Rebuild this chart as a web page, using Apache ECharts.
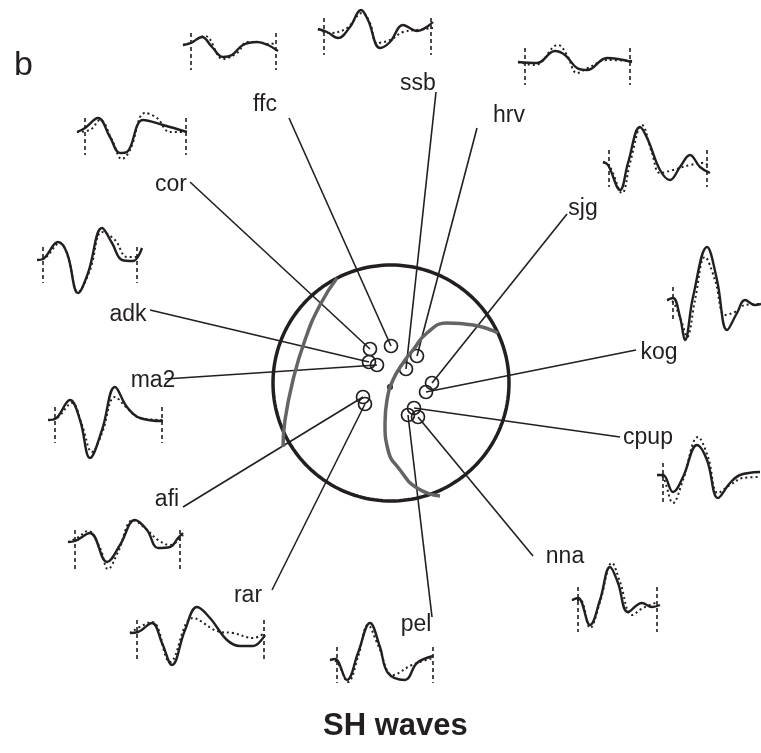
<!DOCTYPE html>
<html>
<head>
<meta charset="utf-8">
<script src="https://cdn.jsdelivr.net/npm/echarts@6/dist/echarts.min.js"></script>
<style>
  html, body { margin: 0; background: #fff; }
  #chart { width: 761px; height: 753px; }
</style>
</head>
<body>
<div id="chart"></div>
<script>
// stations on the focal sphere (projected), their labels and leader-line ends
const stations = ['ffc', 'cor', 'adk', 'ma2', 'ssb', 'hrv', 'sjg', 'kog', 'afi', 'rar', 'cpup', 'pel', 'nna'];
const stationPos = [[391, 346], [370, 349], [369, 362], [377, 365], [406, 369], [417, 356], [432, 383],
  [426, 392], [363, 397], [365, 404], [414, 408], [408, 415], [418, 417]];
const labelPos = [[265, 105], [171, 185], [128, 315], [153, 381], [418, 84], [509, 116], [583, 209],
  [659, 353], [167, 500], [248, 596], [648, 438], [416, 625], [565, 557]];
const leaderEnd = [[289, 118], [190, 182], [150, 310], [165, 379], [436, 92], [477, 128], [567, 214],
  [636, 350], [183, 507], [272, 590], [620, 437], [432, 617], [533, 556]];

// beach ball
const ballCenter = [391, 383];
const ballRadius = 118;
const nodalWest = [[337, 278], [320, 305], [305, 340], [293, 380], [285, 420], [283, 447]];
const nodalEast = [[498, 333], [473, 325], [447, 323], [427, 333], [413, 350], [403, 363], [393, 380],
  [387, 400], [385, 423], [388, 450], [400, 470], [417, 488], [440, 496]];
const centerDot = [390, 387];

// SH waveforms: observed (solid) and synthetic (dotted), window marks
const observed = {
  ffc: [[183, 45], [191, 43], [202, 37], [212, 47], [223, 57], [232, 55], [243, 45], [257, 42], [268, 45], [278, 51]],
  ssb: [[318, 29], [327, 32], [338, 38], [350, 27], [361, 10], [368, 20], [380, 48], [390, 42], [403, 25], [417, 31], [433, 22]],
  hrv: [[518, 62], [537, 63], [555, 51], [565, 55], [577, 68], [587, 70], [607, 58], [632, 62]],
  sjg: [[603, 162], [608, 165], [620, 190], [628, 163], [640, 127], [648, 140], [660, 170], [670, 180], [680, 167], [690, 155], [700, 167], [710, 173]],
  kog: [[667, 300], [673, 298], [680, 317], [685, 340], [693, 297], [707, 247], [717, 280], [727, 330], [737, 313], [745, 300], [755, 305], [761, 304]],
  cpup: [[657, 475], [663, 475], [673, 492], [683, 477], [697, 445], [707, 460], [718, 498], [730, 483], [740, 475], [760, 472]],
  nna: [[572, 600], [578, 598], [590, 625], [600, 600], [610, 567], [618, 583], [628, 612], [642, 603], [652, 607], [660, 605]],
  pel: [[330, 660], [335, 659], [347, 680], [358, 653], [370, 623], [380, 647], [388, 673], [405, 680], [417, 663], [433, 656]],
  rar: [[130, 633], [138, 632], [152, 623], [162, 643], [172, 665], [185, 630], [197, 607], [210, 618], [227, 640], [240, 646], [253, 646], [265, 635]],
  afi: [[68, 542], [75, 541], [90, 533], [107, 562], [120, 545], [135, 520], [147, 530], [158, 548], [170, 547], [178, 538], [183, 533]],
  ma2: [[48, 420], [55, 419], [70, 400], [80, 420], [90, 458], [102, 430], [115, 387], [127, 407], [140, 418], [163, 421]],
  adk: [[37, 260], [43, 259], [58, 242], [67, 253], [78, 293], [88, 273], [102, 228], [112, 243], [122, 260], [133, 261], [142, 248]],
  cor: [[77, 132], [85, 128], [98, 118], [110, 137], [120, 153], [127, 152], [143, 120], [163, 125], [187, 132]]
};
const synthetic = {
  ffc: [[183, 45], [190, 43], [205, 36], [223, 59], [237, 53], [247, 42], [257, 42], [268, 44], [276, 43]],
  ssb: [[318, 29], [330, 33], [347, 28], [362, 13], [370, 23], [377, 43], [390, 40], [403, 32], [417, 30], [433, 28]],
  hrv: [[518, 62], [535, 65], [558, 45], [567, 55], [577, 73], [588, 68], [607, 60], [632, 61]],
  sjg: [[603, 162], [610, 167], [622, 193], [630, 163], [642, 125], [652, 153], [660, 173], [673, 170], [690, 165], [703, 163], [710, 167]],
  kog: [[667, 300], [673, 302], [682, 323], [687, 337], [695, 300], [705, 257], [715, 280], [725, 315], [735, 312], [745, 305], [761, 304]],
  cpup: [[657, 475], [663, 477], [673, 503], [683, 480], [698, 437], [708, 457], [718, 493], [730, 485], [743, 478], [760, 477]],
  nna: [[572, 600], [580, 600], [590, 628], [600, 602], [612, 563], [620, 582], [632, 615], [643, 608], [658, 602]],
  pel: [[330, 660], [337, 662], [348, 682], [358, 657], [368, 625], [378, 645], [393, 675], [412, 665], [433, 658]],
  rar: [[130, 633], [152, 622], [170, 662], [193, 618], [220, 632], [233, 633], [253, 638], [265, 633]],
  afi: [[68, 542], [77, 538], [88, 531], [100, 548], [108, 569], [118, 552], [133, 520], [145, 528], [158, 540], [170, 545], [183, 535]],
  ma2: [[48, 420], [57, 418], [72, 403], [82, 425], [92, 452], [102, 433], [115, 397], [127, 408], [140, 418], [163, 420]],
  adk: [[37, 260], [45, 258], [60, 243], [68, 257], [78, 292], [90, 270], [102, 232], [115, 240], [127, 257], [137, 257]],
  cor: [[77, 132], [90, 130], [100, 120], [112, 140], [122, 159], [130, 150], [145, 113], [157, 118], [170, 132], [187, 132]]
};
// window marks: [x start, x end (null if off page), y top, y bottom]
const windowMarks = {
  ffc: [191, 276, 33, 70], ssb: [324, 431, 18, 55], hrv: [525, 630, 48, 85], sjg: [609, 707, 150, 187],
  kog: [673, null, 287, 322], cpup: [663, null, 463, 503], nna: [578, 657, 587, 632], pel: [337, 433, 647, 683],
  rar: [137, 264, 620, 660], afi: [75, 180, 530, 570], ma2: [55, 162, 407, 443], adk: [43, 137, 247, 283],
  cor: [85, 186, 118, 155]
};

const ink = '#231f20';
const font = 'Liberation Sans, Arial, Helvetica, sans-serif';

const ballOutline = [];
for (let a = 0; a <= 360; a += 2) {
  const t = a * Math.PI / 180;
  ballOutline.push([ballCenter[0] + ballRadius * Math.cos(t), ballCenter[1] + ballRadius * Math.sin(t)]);
}

const series = [];

series.push({
  type: 'line', data: ballOutline, showSymbol: false, silent: true,
  lineStyle: {color: ink, width: 3.5}
});
[nodalWest, nodalEast].forEach(arc => series.push({
  type: 'line', data: arc, smooth: 0.5, showSymbol: false, silent: true,
  lineStyle: {color: '#646464', width: 3.5}
}));

series.push({
  type: 'lines', coordinateSystem: 'cartesian2d', silent: true,
  lineStyle: {color: ink, width: 1.6, opacity: 1},
  data: stations.map((s, i) => ({coords: [leaderEnd[i], stationPos[i]]}))
});

series.push({
  type: 'scatter', data: stationPos, symbol: 'circle', symbolSize: 13, silent: true,
  itemStyle: {color: 'rgba(0,0,0,0)', borderColor: ink, borderWidth: 1.7, opacity: 1}
});
series.push({
  type: 'scatter', data: [centerDot], symbolSize: 6, silent: true,
  itemStyle: {color: ink, opacity: 1}
});

series.push({
  type: 'scatter', symbolSize: 0, silent: true,
  itemStyle: {opacity: 1, color: ink},
  data: stations.map((s, i) => ({name: s, value: labelPos[i]})),
  label: {show: true, position: 'inside', formatter: '{b}', color: ink, fontSize: 23,
    fontFamily: font, textBorderWidth: 0, opacity: 1}
});

Object.keys(observed).forEach(k => {
  series.push({
    type: 'line', data: synthetic[k], smooth: 0.4, showSymbol: false, silent: true,
    lineStyle: {color: ink, width: 2, type: [2, 3]}
  });
  series.push({
    type: 'line', data: observed[k], smooth: 0.4, showSymbol: false, silent: true,
    lineStyle: {color: ink, width: 2.4}
  });
  const m = windowMarks[k];
  const bars = [m[0], m[1]].filter(x => x !== null).map(x => ({coords: [[x, m[2]], [x, m[3]]]}));
  series.push({
    type: 'lines', coordinateSystem: 'cartesian2d', silent: true, data: bars,
    lineStyle: {color: ink, width: 1.6, type: [4, 3], opacity: 1}
  });
});

const chart = echarts.init(document.getElementById('chart'));
chart.setOption({
  animation: false,
  backgroundColor: '#fff',
  title: [
    {text: 'SH waves', left: 318, top: 706,
      textStyle: {fontSize: 31, fontWeight: 'bold', color: ink, fontFamily: font}},
    {text: 'b', left: 9, top: 44,
      textStyle: {fontSize: 34, fontWeight: 'normal', color: ink, fontFamily: font}}
  ],
  grid: {left: 0, right: 0, top: 0, bottom: 0},
  xAxis: {type: 'value', min: 0, max: 761, show: false},
  yAxis: {type: 'value', min: 0, max: 753, inverse: true, show: false},
  series: series
});
</script>
</body>
</html>
